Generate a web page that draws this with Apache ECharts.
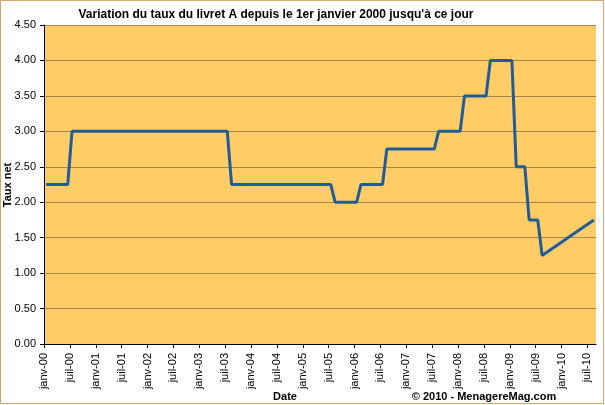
<!DOCTYPE html>
<html>
<head>
<meta charset="utf-8">
<script src="https://cdn.jsdelivr.net/npm/echarts@6/dist/echarts.min.js"></script>
<style>
html,body{margin:0;padding:0;background:#fff;}
#c{width:605px;height:405px;}
</style>
</head>
<body>
<div id="c"></div>
<script>
// Month index since janv-2000 at each rate change boundary
var months = [0,5,6,42,43,66,67,72,73,78,79,90,91,96,97,102,103,108,109,111,112,114,115,127];
var rates  = [2.25,2.25,3.00,3.00,2.25,2.25,2.00,2.00,2.25,2.25,2.75,2.75,3.00,3.00,3.50,3.50,4.00,4.00,2.50,2.50,1.75,1.75,1.25,1.75];
var xTickLabels = ['janv-00','juil-00','janv-01','juil-01','janv-02','juil-02','janv-03','juil-03','janv-04','juil-04','janv-05','juil-05','janv-06','juil-06','janv-07','juil-07','janv-08','juil-08','janv-09','juil-09','janv-10','juil-10'];
var titleText = "Variation du taux du livret A depuis le 1er janvier 2000 jusqu'à ce jour";
var xName = 'Date';
var yName = 'Taux net';
var credit = '© 2010 - MenagereMag.com';

var data = months.map(function(m, i){ return [m + 0.5, rates[i]]; });
var FONT = '"Liberation Sans", Arial, sans-serif';

var chart = echarts.init(document.getElementById('c'));
chart.setOption({
  animation: false,
  backgroundColor: '#ffffff',
  textStyle: {fontFamily: FONT},
  grid: {left: 44, right: 9, top: 25, bottom: 61, show: true, backgroundColor: '#FFCC66', borderWidth: 0, containLabel: false, outerBoundsMode: 'none'},
  xAxis: {
    type: 'value', min: 0, max: 128, interval: 6,
    axisLine: {show: true, lineStyle: {color: '#000', width: 1}},
    axisTick: {show: true, length: 4, lineStyle: {color: '#000'}},
    splitLine: {show: false},
    axisLabel: {
      rotate: 90, margin: 9, fontSize: 11, color: '#000', fontFamily: FONT,
      showMaxLabel: false, hideOverlap: false,
      formatter: function(v){ var i = Math.round(v / 6); return (v % 6 === 0 && xTickLabels[i]) ? xTickLabels[i] : ''; }
    }
  },
  yAxis: {
    type: 'value', min: 0, max: 4.5, interval: 0.5,
    axisLine: {show: true, lineStyle: {color: '#000', width: 1}},
    axisTick: {show: true, length: 4, lineStyle: {color: '#000'}},
    splitLine: {show: true, lineStyle: {color: '#A8864A', width: 1}},
    axisLabel: {margin: 8, fontSize: 11, color: '#000', fontFamily: FONT, formatter: function(v){ return v.toFixed(2); }}
  },
  series: [{
    type: 'line', data: data, showSymbol: false, symbol: 'none',
    lineStyle: {color: '#1F5C99', width: 3}
  }],
  graphic: [
    {type: 'rect', shape: {x: 0.5, y: 0.5, width: 603, height: 403}, style: {fill: 'none', stroke: '#D9A46A', lineWidth: 1}, silent: true},
    {type: 'text', x: 276, y: 15, style: {text: titleText, fontSize: 12, fontWeight: 'bold', fill: '#000', fontFamily: FONT, align: 'center', verticalAlign: 'middle'}},
    {type: 'text', x: 8, y: 185, rotation: Math.PI / 2, style: {text: yName, fontSize: 11, fontWeight: 'bold', fill: '#000', fontFamily: FONT, align: 'center', verticalAlign: 'middle'}},
    {type: 'text', x: 285, y: 397, style: {text: xName, fontSize: 11, fontWeight: 'bold', fill: '#000', fontFamily: FONT, align: 'center', verticalAlign: 'middle'}},
    {type: 'text', x: 484, y: 397, style: {text: credit, fontSize: 11, fontWeight: 'bold', fill: '#000', fontFamily: FONT, align: 'center', verticalAlign: 'middle'}}
  ]
});
</script>
</body>
</html>
